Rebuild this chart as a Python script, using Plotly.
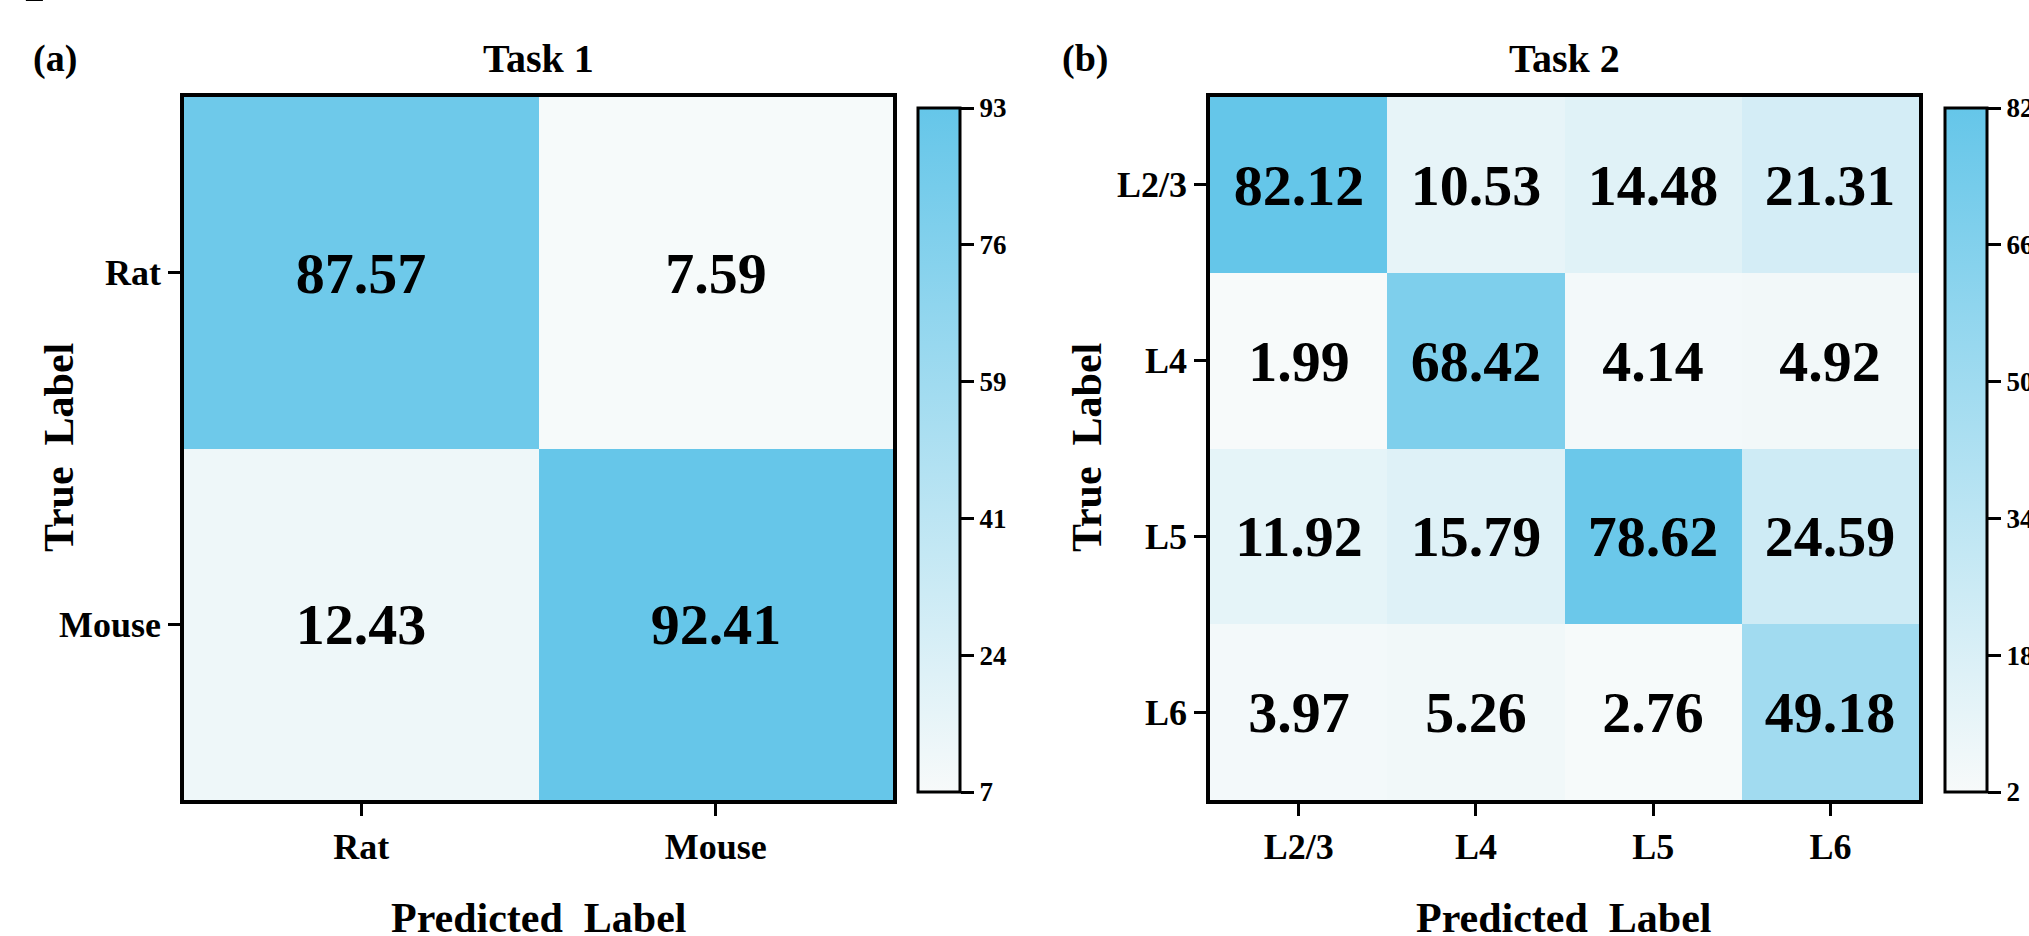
import plotly.graph_objects as go

W, H = 2029, 936

# ---------------- data ----------------
task1_labels = ["Rat", "Mouse"]
task1_values = [
    [87.57, 7.59],
    [12.43, 92.41],
]
task1_cbar_ticks = [7, 24.2, 41.4, 58.6, 75.8, 93]
task1_cbar_text = ["7", "24", "41", "59", "76", "93"]

task2_labels = ["L2/3", "L4", "L5", "L6"]
task2_values = [
    [82.12, 10.53, 14.48, 21.31],
    [1.99, 68.42, 4.14, 4.92],
    [11.92, 15.79, 78.62, 24.59],
    [3.97, 5.26, 2.76, 49.18],
]
task2_cbar_ticks = [2, 18, 34, 50, 66, 82]
task2_cbar_text = ["2", "18", "34", "50", "66", "82"]

# ---------------- style ----------------
FONT = "Liberation Serif"
CSCALE = [[0.0, "#F7FAFA"], [1.0, "#65C6E9"]]


def px_x(p):
    return p / W


def px_y(p):
    return 1 - p / H


def fmt(m):
    return [["%.2f" % v for v in row] for row in m]


def cbar(x_left, ticks, texts):
    return dict(
        x=px_x(x_left), xanchor="left", xpad=0,
        y=px_y(450), yanchor="middle", ypad=0,
        len=684 / H, lenmode="fraction",
        thickness=42, thicknessmode="pixels",
        outlinewidth=3, outlinecolor="black",
        ticks="outside", ticklen=13, tickwidth=3, tickcolor="black",
        tickvals=ticks, ticktext=texts,
        tickfont=dict(family=FONT, size=27, color="black", weight="bold"),
    )


fig = go.Figure()

cell_font = dict(family=FONT, size=58, color="black", weight="bold")

fig.add_trace(go.Heatmap(
    z=task1_values, x=task1_labels, y=task1_labels,
    text=fmt(task1_values), texttemplate="%{text}",
    textfont=cell_font,
    colorscale=CSCALE, zmin=task1_cbar_ticks[0], zmax=task1_cbar_ticks[-1],
    colorbar=cbar(918, task1_cbar_ticks, task1_cbar_text),
    xaxis="x", yaxis="y", hoverinfo="skip",
))

fig.add_trace(go.Heatmap(
    z=task2_values, x=task2_labels, y=task2_labels,
    text=fmt(task2_values), texttemplate="%{text}",
    textfont=cell_font,
    colorscale=CSCALE, zmin=task2_cbar_ticks[0], zmax=task2_cbar_ticks[-1],
    colorbar=cbar(1945, task2_cbar_ticks, task2_cbar_text),
    xaxis="x2", yaxis="y2", hoverinfo="skip",
))

tickfont = dict(family=FONT, size=36, color="black", weight="bold")
axis_common = dict(
    showline=True, mirror=True, linewidth=3.5, linecolor="black",
    ticks="outside", ticklen=12, tickwidth=3, tickcolor="black",
    tickfont=tickfont, showgrid=False, zeroline=False, fixedrange=True,
)

fig.update_layout(
    width=W, height=H,
    margin=dict(l=0, r=0, t=0, b=0, autoexpand=False),
    paper_bgcolor="white", plot_bgcolor="white",
    xaxis=dict(domain=[px_x(184), px_x(893)], anchor="y", **axis_common),
    yaxis=dict(domain=[px_y(800), px_y(97)], anchor="x", autorange="reversed",
               **axis_common),
    xaxis2=dict(domain=[px_x(1210), px_x(1919)], anchor="y2", **axis_common),
    yaxis2=dict(domain=[px_y(800), px_y(97)], anchor="x2", autorange="reversed",
                **axis_common),
    showlegend=False,
)

ann_font_b = dict(family=FONT, size=42, color="black", weight="bold")
paren_font = dict(family=FONT, size=38, color="black", weight="bold")
annotations = [
    dict(text="Task 1", x=px_x(538), y=px_y(58), font=dict(ann_font_b, size=40)),
    dict(text="Task 2", x=px_x(1564), y=px_y(58), font=dict(ann_font_b, size=40)),
    dict(text="(a)", x=px_x(55), y=px_y(58), font=paren_font),
    dict(text="(b)", x=px_x(1085), y=px_y(58), font=paren_font),
    dict(text="Predicted  Label", x=px_x(539), y=px_y(918), font=ann_font_b),
    dict(text="Predicted  Label", x=px_x(1564), y=px_y(918), font=ann_font_b),
    dict(text="True  Label", x=px_x(59), y=px_y(448), textangle=-90, font=ann_font_b),
    dict(text="True  Label", x=px_x(1087), y=px_y(448), textangle=-90, font=ann_font_b),
    dict(text="p", x=px_x(43), y=px_y(3), yanchor="bottom",
         font=dict(family=FONT, size=66, color="black", weight="bold")),
]
for a in annotations:
    a.setdefault("xref", "paper")
    a.setdefault("yref", "paper")
    a.setdefault("showarrow", False)
    a.setdefault("xanchor", "center")
    a.setdefault("yanchor", "middle")
fig.update_layout(annotations=annotations)

fig.write_html(
    "out.html",
    config={"displayModeBar": False},
    post_script="document.body.style.margin='0';document.body.style.overflow='hidden';",
)
